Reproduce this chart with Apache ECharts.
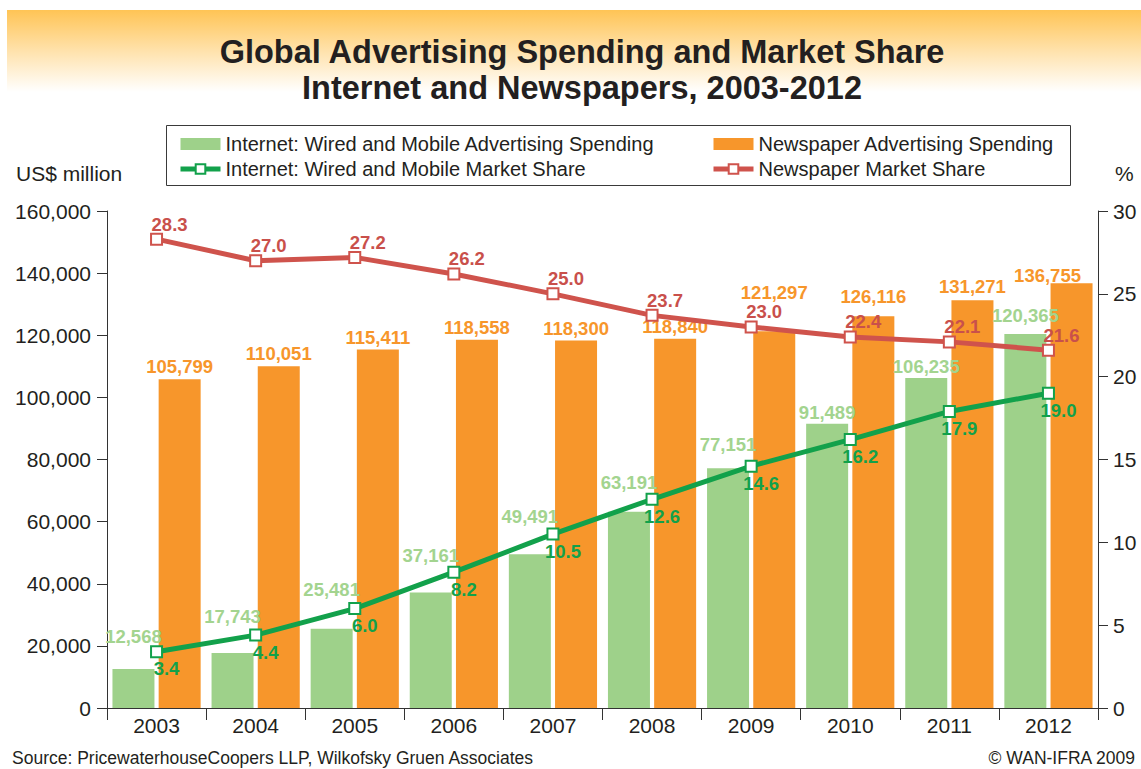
<!DOCTYPE html>
<html>
<head>
<meta charset="utf-8">
<title>Global Advertising Spending and Market Share</title>
<script src="https://cdn.jsdelivr.net/npm/echarts@6/dist/echarts.min.js"></script>
<style>
  html, body { margin: 0; padding: 0; background: #fff; }
  #chart { width: 1141px; height: 769px; }
</style>
</head>
<body>
<div id="chart"></div>
<script>
// categories and values
const years = ['2003', '2004', '2005', '2006', '2007', '2008', '2009', '2010', '2011', '2012'];
const internetSpend = [12568, 17743, 25481, 37161, 49491, 63191, 77151, 91489, 106235, 120365];
const newspaperSpend = [105799, 110051, 115411, 118558, 118300, 118840, 121297, 126116, 131271, 136755];
const internetShare = [3.4, 4.4, 6.0, 8.2, 10.5, 12.6, 14.6, 16.2, 17.9, 19.0];
const newspaperShare = [28.3, 27.0, 27.2, 26.2, 25.0, 23.7, 23.0, 22.4, 22.1, 21.6];

// label nudges (px above bar top) so labels clear the lines, like the original
const internetLabelLift = [33, 37, 40, 38, 38, 30, 24, 12, 12, 19];
const newspaperLabelLift = [13, 13, 13, 13, 13, 13, 39, 20, 14, 8];
const newspaperLabelShift = [0, 0, 0, 0, 0, 0, 0, 0, 0, -24];

const FONT = '"Liberation Sans", Arial, Helvetica, sans-serif';
const GREEN_BAR = '#9ED18A';
const ORANGE = '#F7962B';
const GREEN_LINE = '#12A14B';
const RED_LINE = '#CF534C';

const fmt = v => String(v).replace(/\B(?=(\d{3})+(?!\d))/g, ',');

const chart = echarts.init(document.getElementById('chart'), null, { renderer: 'svg' });

const option = {
  backgroundColor: '#fff',
  textStyle: { fontFamily: FONT },
  animation: false,
  title: {
    text: 'Global Advertising Spending and Market Share\nInternet and Newspapers, 2003-2012',
    left: 577,
    top: 29,
    textAlign: 'center',
    textStyle: { fontSize: 32.5, fontWeight: 'bold', color: '#231F20', lineHeight: 36, fontFamily: FONT }
  },
  graphic: [
    {
      type: 'rect', z: -10, silent: true,
      shape: { x: 7, y: 10, width: 1134, height: 82 },
      style: {
        fill: new echarts.graphic.LinearGradient(0, 0, 0, 1, [
          { offset: 0, color: '#FFC455' },
          { offset: 0.5, color: '#FFE2AC' },
          { offset: 1, color: '#FFFFFF' }
        ])
      }
    },
    {
      type: 'rect', silent: true,
      shape: { x: 166.5, y: 125.5, width: 904, height: 60 },
      style: { fill: 'none', stroke: '#3a3a3a', lineWidth: 1 }
    },
    {
      type: 'text', left: 16, top: 163,
      style: { text: 'US$ million', fontSize: 21, fill: '#231F20', fontFamily: FONT }
    },
    {
      type: 'text', left: 1115, top: 163,
      style: { text: '%', fontSize: 21, fill: '#231F20', fontFamily: FONT }
    },
    {
      type: 'text', left: 12, top: 749,
      style: { text: 'Source: PricewaterhouseCoopers LLP, Wilkofsky Gruen Associates', fontSize: 17.5, fill: '#231F20', fontFamily: FONT }
    },
    {
      type: 'text', right: 5, top: 749,
      style: { text: '© WAN-IFRA 2009', fontSize: 17.5, fill: '#231F20', fontFamily: FONT }
    }
  ],
  legend: [
    {
      orient: 'vertical', left: 178, top: 134, padding: 0, itemGap: 5,
      itemWidth: 40, itemHeight: 12, selectedMode: false,
      textStyle: { fontSize: 20, color: '#231F20', fontFamily: FONT },
      data: [
        { name: 'Internet: Wired and Mobile Advertising Spending', icon: 'rect' },
        { name: 'Internet: Wired and Mobile Market Share', lineStyle: { width: 5 } }
      ]
    },
    {
      orient: 'vertical', left: 711, top: 134, padding: 0, itemGap: 5,
      itemWidth: 40, itemHeight: 12, selectedMode: false,
      textStyle: { fontSize: 20, color: '#231F20', fontFamily: FONT },
      data: [
        { name: 'Newspaper Advertising Spending', icon: 'rect' },
        { name: 'Newspaper Market Share', lineStyle: { width: 5 } }
      ]
    }
  ],
  grid: { left: 107, right: 43, top: 211, bottom: 61, containLabel: false },
  xAxis: {
    type: 'category',
    data: years,
    boundaryGap: true,
    axisLine: { lineStyle: { color: '#333', width: 1 } },
    axisTick: { show: true, interval: 0, length: 12, lineStyle: { color: '#333' } },
    axisLabel: { fontSize: 21, color: '#231F20', margin: 7, fontFamily: FONT }
  },
  yAxis: [
    {
      type: 'value', min: 0, max: 160000, interval: 20000,
      axisLine: { show: true, lineStyle: { color: '#333', width: 1 } },
      axisTick: { show: true, length: 10, lineStyle: { color: '#333' } },
      axisLabel: { fontSize: 21, color: '#231F20', margin: 16, formatter: fmt, fontFamily: FONT },
      splitLine: { show: false }
    },
    {
      type: 'value', min: 0, max: 30, interval: 5, position: 'right',
      axisLine: { show: true, lineStyle: { color: '#333', width: 1 } },
      axisTick: { show: true, length: 10, lineStyle: { color: '#333' } },
      axisLabel: { fontSize: 21, color: '#231F20', margin: 15, fontFamily: FONT },
      splitLine: { show: false }
    }
  ],
  series: [
    {
      name: 'Internet: Wired and Mobile Advertising Spending',
      type: 'bar',
      barWidth: 42,
      barGap: '10%',
      itemStyle: { color: GREEN_BAR },
      label: {
        show: true, position: 'top', distance: 3,
        fontSize: 18.5, fontWeight: 'bold', color: '#A3D48F', fontFamily: FONT,
        formatter: p => fmt(p.value)
      },
      data: internetSpend.map((v, i) => ({
        value: v,
        label: { offset: [0, -(internetLabelLift[i] - 13)] }
      }))
    },
    {
      name: 'Newspaper Advertising Spending',
      type: 'bar',
      barWidth: 42,
      barGap: '10%',
      itemStyle: { color: ORANGE },
      label: {
        show: true, position: 'top', distance: 3,
        fontSize: 18.5, fontWeight: 'bold', color: ORANGE, fontFamily: FONT,
        formatter: p => fmt(p.value)
      },
      data: newspaperSpend.map((v, i) => ({
        value: v,
        label: { offset: [newspaperLabelShift[i], -(newspaperLabelLift[i] - 13)] }
      }))
    },
    {
      name: 'Internet: Wired and Mobile Market Share',
      type: 'line',
      yAxisIndex: 1,
      z: 5,
      symbol: 'rect',
      symbolSize: 11,
      lineStyle: { color: GREEN_LINE, width: 5 },
      itemStyle: { color: '#fff', borderColor: GREEN_LINE, borderWidth: 2 },
      label: {
        show: true, position: 'inside', offset: [10, 17],
        fontSize: 18.5, fontWeight: 'bold', color: GREEN_LINE, fontFamily: FONT,
        formatter: p => p.value.toFixed(1)
      },
      data: internetShare
    },
    {
      name: 'Newspaper Market Share',
      type: 'line',
      yAxisIndex: 1,
      z: 5,
      symbol: 'rect',
      symbolSize: 11,
      lineStyle: { color: RED_LINE, width: 5 },
      itemStyle: { color: '#fff', borderColor: RED_LINE, borderWidth: 2 },
      label: {
        show: true, position: 'inside', offset: [13, -15],
        fontSize: 18.5, fontWeight: 'bold', color: '#C9504B', fontFamily: FONT,
        formatter: p => p.value.toFixed(1)
      },
      data: newspaperShare
    }
  ]
};

chart.setOption(option);
</script>
</body>
</html>
